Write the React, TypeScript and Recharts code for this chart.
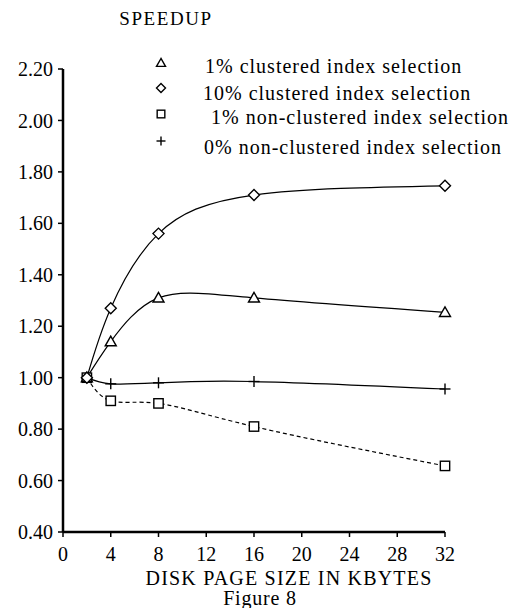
import React from "react";
import { LineChart, Line, XAxis, YAxis, Customized } from "recharts";

const pageSizes = [2, 4, 8, 16, 32];
const clustered1 = [1.0, 1.14, 1.31, 1.31, 1.254];
const clustered10 = [1.0, 1.27, 1.56, 1.71, 1.746];
const nonClustered1 = [1.0, 0.91, 0.9, 0.81, 0.657];
const nonClustered0 = [1.0, 0.976, 0.98, 0.985, 0.956];

const xTicks = [0, 4, 8, 12, 16, 20, 24, 28, 32];
const yTicks = [0.4, 0.6, 0.8, 1.0, 1.2, 1.4, 1.6, 1.8, 2.0, 2.2];

const legendItems = [
  { label: "1% clustered index selection", shape: "triangle" },
  { label: "10% clustered index selection", shape: "diamond" },
  { label: "1% non-clustered index selection", shape: "square" },
  { label: "0% non-clustered index selection", shape: "plus" },
];

const data = pageSizes.map((x, i) => ({
  x,
  c1: clustered1[i],
  c10: clustered10[i],
  nc1: nonClustered1[i],
  nc0: nonClustered0[i],
}));

const FONT = "Liberation Serif, Times New Roman, serif";

function Shape({ shape, cx, cy, s }: { shape: string; cx: number; cy: number; s: number }) {
  const st = { fill: "#fff", stroke: "#000", strokeWidth: 1.4 };
  if (shape === "triangle") {
    return (
      <polygon
        points={`${cx},${cy - s} ${cx - s},${cy + s * 0.75} ${cx + s},${cy + s * 0.75}`}
        {...st}
      />
    );
  }
  if (shape === "diamond") {
    return (
      <polygon
        points={`${cx},${cy - s} ${cx + s},${cy} ${cx},${cy + s} ${cx - s},${cy}`}
        {...st}
      />
    );
  }
  if (shape === "square") {
    return <rect x={cx - s * 0.85} y={cy - s * 0.85} width={s * 1.7} height={s * 1.7} {...st} />;
  }
  return (
    <g stroke="#000" strokeWidth={1.4}>
      <line x1={cx - s} y1={cy} x2={cx + s} y2={cy} />
      <line x1={cx} y1={cy - s} x2={cx} y2={cy + s} />
    </g>
  );
}

const makeDot = (shape: string) => (props: any) => {
  const { cx, cy, index } = props;
  if (cx == null || cy == null) return <g key={`${shape}-${index}`} />;
  return (
    <g key={`${shape}-${index}`}>
      <Shape shape={shape} cx={cx} cy={cy} s={5.5} />
    </g>
  );
};

const txt = { fontFamily: FONT, fontSize: 20, fill: "#000", letterSpacing: 1 };

const Overlay = () => (
  <g>
    <text x={166} y={25} textAnchor="middle" style={{ ...txt, fontSize: 19, letterSpacing: 1.6 }}>
      SPEEDUP
    </text>
    {legendItems.map((it, i) => {
      const my = [63, 88, 114, 141][i];
      const ty = [73, 100, 124, 154][i];
      const tx = [205, 203, 211, 204][i];
      return (
        <g key={it.label}>
          <Shape shape={it.shape} cx={161} cy={my} s={4.5} />
          <text x={tx} y={ty} style={txt}>
            {it.label}
          </text>
        </g>
      );
    })}
    <text x={289} y={585} textAnchor="middle" style={{ ...txt, letterSpacing: 1.2 }}>
      DISK PAGE SIZE IN KBYTES
    </text>
    <text x={260} y={605} textAnchor="middle" style={{ ...txt, letterSpacing: 0.8 }}>
      Figure 8
    </text>
  </g>
);

export default function App() {
  return (
    <div style={{ position: "absolute", left: 0, top: 0, width: 517, height: 608, background: "#fff", fontFamily: FONT }}>
      <LineChart
        width={517}
        height={608}
        data={data}
        margin={{ top: 69, right: 72, bottom: 46, left: 3 }}
        style={{ fontFamily: FONT }}
      >
        <XAxis
          dataKey="x"
          type="number"
          domain={[0, 32]}
          ticks={xTicks}
          interval={0}
          height={30}
          axisLine={{ stroke: "#000", strokeWidth: 2.5 }}
          tickLine={{ stroke: "#000", strokeWidth: 1.5 }}
          tickSize={5}
          tickMargin={10}
          tick={{ fill: "#000", fontSize: 20, style: { fontFamily: FONT } }}
        />
        <YAxis
          type="number"
          domain={[0.4, 2.2]}
          ticks={yTicks}
          interval={0}
          width={60}
          axisLine={{ stroke: "#000", strokeWidth: 2.5 }}
          tickLine={{ stroke: "#000", strokeWidth: 1.5 }}
          tickSize={5}
          tickMargin={5}
          tickFormatter={(v: number) => v.toFixed(2)}
          tick={{ fill: "#000", fontSize: 20, style: { fontFamily: FONT } }}
        />
        <Line
          type="natural"
          dataKey="nc1"
          stroke="#000"
          strokeWidth={1.2}
          strokeDasharray="4 3"
          dot={makeDot("square")}
          isAnimationActive={false}
        />
        <Line
          type="natural"
          dataKey="nc0"
          stroke="#000"
          strokeWidth={1.2}
          dot={makeDot("plus")}
          isAnimationActive={false}
        />
        <Line
          type="natural"
          dataKey="c1"
          stroke="#000"
          strokeWidth={1.2}
          dot={makeDot("triangle")}
          isAnimationActive={false}
        />
        <Line
          type="natural"
          dataKey="c10"
          stroke="#000"
          strokeWidth={1.2}
          dot={makeDot("diamond")}
          isAnimationActive={false}
        />
        <Customized component={Overlay} />
      </LineChart>
    </div>
  );
}
